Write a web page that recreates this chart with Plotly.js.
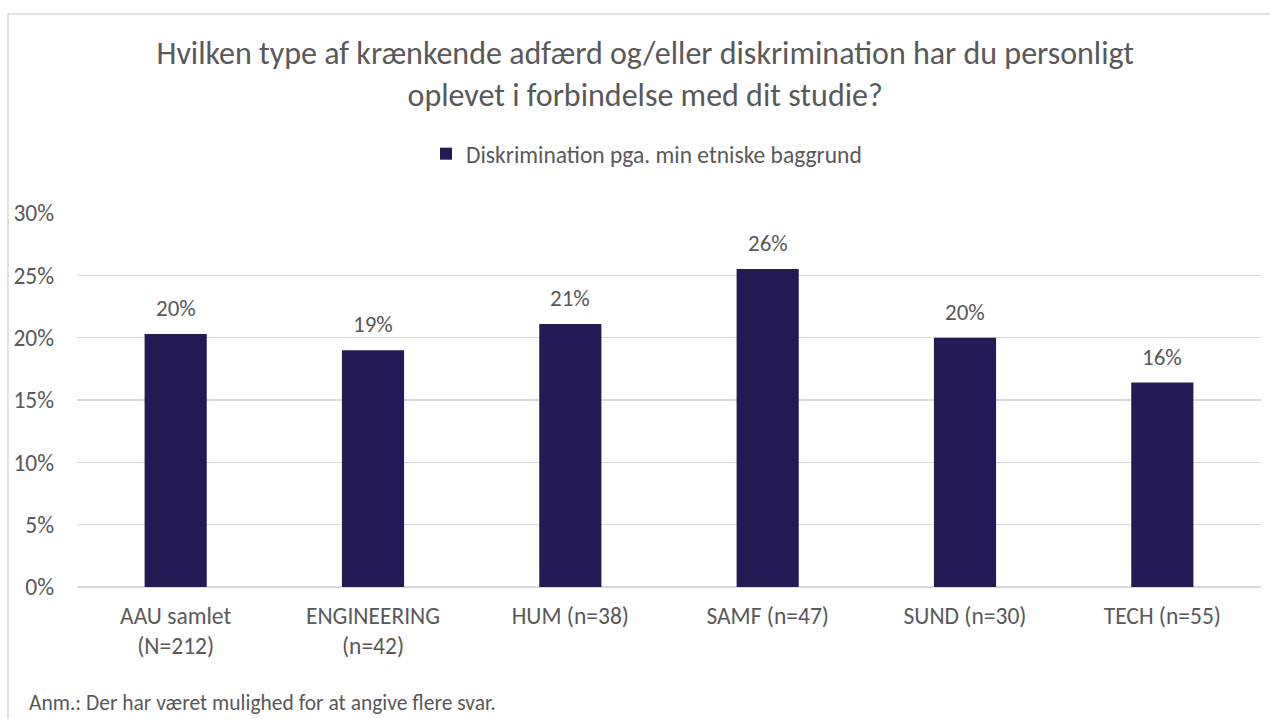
<!DOCTYPE html>
<html>
<head>
<meta charset="utf-8">
<script src="https://cdn.plot.ly/plotly-3.0.1.min.js"></script>
<style>html,body{margin:0;padding:0;background:#fff;}</style>
</head>
<body>
<div id="chart" style="width:1270px;height:719px;"></div>
<script>
const categories = ["AAU samlet<br>(N=212)", "ENGINEERING<br>(n=42)", "HUM (n=38)", "SAMF (n=47)", "SUND (n=30)", "TECH (n=55)"];
const values = [0.203, 0.190, 0.211, 0.255, 0.200, 0.164];
const valueLabels = ["20%", "19%", "21%", "26%", "20%", "16%"];
const seriesName = "Diskrimination pga. min etniske baggrund";
const tickVals = [0, 0.05, 0.10, 0.15, 0.20, 0.25, 0.30];
const tickText = ["0%", "5%", "10%", "15%", "20%", "25%", "30%"];

const FONT = "Calibri, Carlito, Lato, sans-serif";
const GREY = "#595959";

const trace = {
  type: "bar",
  x: categories,
  y: values,
  name: seriesName,
  marker: {color: "#231B54", line: {width: 0}},
  width: 0.315,
  hoverinfo: "skip"
};

const annotations = categories.map((c, i) => ({
  x: c, y: values[i], xref: "x", yref: "y",
  text: valueLabels[i], showarrow: false,
  yanchor: "bottom", yshift: 10,
  font: {family: FONT, size: 23, color: GREY}
}));
annotations.push({
  xref: "paper", yref: "paper", x: -0.042, y: -0.31,
  xanchor: "left", yanchor: "middle",
  text: "Anm.: Der har været mulighed for at angive flere svar.",
  showarrow: false,
  font: {family: FONT, size: 21.5, color: GREY}
});

const layout = {
  width: 1270, height: 719,
  margin: {l: 77, r: 9, t: 213, b: 132},
  paper_bgcolor: "#fff", plot_bgcolor: "#fff",
  font: {family: FONT, color: GREY},
  title: {
    text: "Hvilken type af krænkende adfærd og/eller diskrimination har du personligt<br>oplevet i forbindelse med dit studie?",
    font: {family: FONT, size: 32, color: GREY},
    x: 0.508, xanchor: "center",
    y: 0.911, yanchor: "top", yref: "container"
  },
  showlegend: true,
  legend: {
    orientation: "h", x: 0.481, xanchor: "center", y: 1.158, yanchor: "middle",
    font: {family: FONT, size: 23.5, color: GREY},
    itemwidth: 30
  },
  xaxis: {
    type: "category",
    showgrid: false, zeroline: false, showline: false,
    ticks: "", ticklabelstandoff: 12,
    tickfont: {family: FONT, size: 23.5, color: GREY}
  },
  yaxis: {
    range: [0, 0.30], tickvals: tickVals, ticktext: tickText,
    showgrid: true, gridcolor: "#d9d9d9", gridwidth: 1.5,
    zeroline: true, zerolinecolor: "#d9d9d9", zerolinewidth: 1.5,
    showline: false, ticks: "", ticklabelstandoff: 22,
    tickfont: {family: FONT, size: 23.5, color: GREY}
  },
  bargap: 0.685,
  annotations: annotations,
  shapes: [{
    type: "rect", xref: "paper", yref: "paper",
    x0: -0.0583, x1: 1.2, y0: -0.6, y1: 1.532,
    line: {color: "#d9d9d9", width: 1.5}, fillcolor: "rgba(0,0,0,0)", layer: "below"
  }]
};

Plotly.newPlot("chart", [trace], layout, {displayModeBar: false, staticPlot: true});
</script>
</body>
</html>
